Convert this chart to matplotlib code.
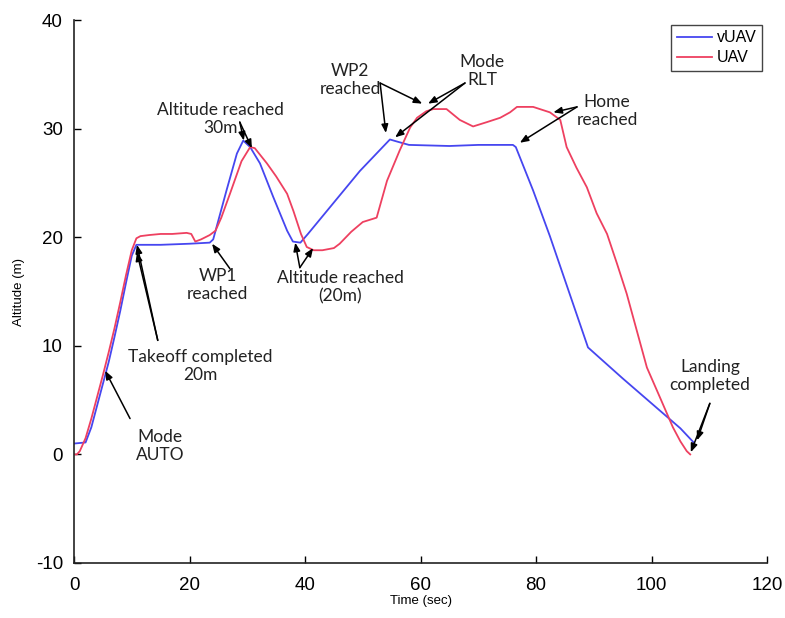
import matplotlib
matplotlib.use("Agg")
import matplotlib.pyplot as plt

# vUAV (blue) series
t_v = [0, 2, 3, 4, 5, 6, 7, 8, 9, 10, 10.8, 11.5, 15, 20, 23.5, 24.1, 26.4, 28.2, 29.3,
       30.5, 32.2, 34.5, 36.9, 37.9, 39.2, 40.5, 45, 49.5, 54.7, 56, 58, 65, 70, 76.0,
       76.5, 79.5, 82.4, 89.0, 95, 100, 105, 107.3]
y_v = [1.0, 1.1, 2.5, 4.5, 6.5, 8.5, 10.8, 13.2, 15.8, 18.3, 19.3, 19.3, 19.3, 19.4, 19.5,
       19.8, 24.3, 27.7, 28.9, 28.3, 26.8, 23.7, 20.6, 19.6, 19.5, 20.3, 23.2, 26.1, 29.0,
       28.8, 28.5, 28.4, 28.5, 28.5, 28.3, 24.3, 20.1, 9.85, 7.0, 4.7, 2.4, 1.1]

# UAV (red) series
t_u = [0, 0.5, 1, 2, 3, 4, 5, 6, 7, 8, 9, 10, 10.8, 11.5, 13, 15, 17, 19.5, 20.3, 21, 22,
       23.5, 24.5, 25.5, 27, 29, 30.5, 31.3, 33.4, 35, 36.9, 38, 39.3, 40.3, 41.5, 43, 45,
       46, 48, 50, 52.4, 54.2, 56.4, 58.2, 59.4, 61, 62.2, 64.5, 66.8, 69.1, 71.5, 73.8,
       75.5, 76.7, 79.5, 82.4, 84.2, 85.3, 87, 88.8, 90.5, 92.3, 94, 95.7, 97.5, 99.2,
       101.5, 103.7, 105, 106.1, 106.7]
y_u = [0.0, 0.0, 0.3, 1.5, 3.3, 5.3, 7.3, 9.4, 11.6, 14.0, 16.5, 18.8, 19.9, 20.1, 20.2,
       20.3, 20.3, 20.4, 20.3, 19.6, 19.8, 20.2, 20.6, 21.8, 24.0, 27.0, 28.3, 28.2, 26.8,
       25.6, 24.0, 22.4, 20.3, 19.1, 18.8, 18.8, 19.0, 19.4, 20.5, 21.4, 21.8, 25.2, 28.0,
       30.1, 31.0, 31.6, 31.8, 31.8, 30.8, 30.2, 30.6, 31.0, 31.5, 32.0, 32.0, 31.5, 30.8,
       28.3, 26.4, 24.6, 22.2, 20.3, 17.6, 14.8, 11.3, 8.0, 5.2, 2.5, 1.2, 0.3, 0.0]

x_ticks = [0, 20, 40, 60, 80, 100, 120]
y_ticks = [-10, 0, 10, 20, 30, 40]

# annotations: text, text position, list of arrow (tail, head)
annotations = [
    ("Mode\nAUTO", (14.9, 0.8), [((9.7, 3.3), (5.4, 7.7))]),
    ("Takeoff completed\n20m", (21.8, 8.1), [((14.5, 10.5), (10.9, 19.3)),
                                             ((14.5, 10.5), (10.9, 18.6))]),
    ("WP1\nreached", (24.9, 15.6), [((27.0, 17.1), (23.9, 19.4))]),
    ("Altitude reached\n30m", (25.3, 30.9), [((28.7, 30.6), (29.4, 28.9)),
                                             ((28.7, 30.6), (30.8, 28.2))]),
    ("Altitude reached\n(20m)", (46.1, 15.4), [((39.1, 17.2), (38.3, 19.5)),
                                               ((39.1, 17.2), (41.4, 19.0))]),
    ("WP2\nreached", (47.8, 34.5), [((53.0, 34.2), (60.3, 32.3)),
                                    ((53.0, 34.2), (54.0, 29.6))]),
    ("Mode\nRLT", (70.7, 35.3), [((67.7, 34.2), (61.3, 32.3)),
                                 ((67.7, 34.2), (55.6, 29.2))]),
    ("Home\nreached", (92.3, 31.6), [((87.1, 32.0), (83.0, 31.5)),
                                     ((87.1, 32.0), (77.2, 28.7))]),
    ("Landing\ncompleted", (110.1, 7.2), [((110.1, 4.7), (107.9, 1.3)),
                                          ((110.1, 4.7), (106.8, 0.2))]),
]

plt.rcParams['font.family'] = ['Liberation Sans', 'DejaVu Sans']
plt.rcParams['axes.unicode_minus'] = False

fig = plt.figure(figsize=(7.85, 6.18), dpi=100)
ax = fig.add_axes([0.0943, 0.089, 0.8828, 0.8786])

ax.plot(t_v, y_v, color='#4646f0', lw=1.3, label='vUAV')
ax.plot(t_u, y_u, color='#ee4060', lw=1.3, label='UAV')

ax.set_xlim(0, 120)
ax.set_ylim(-10, 40)
ax.set_xticks(x_ticks)
ax.set_yticks(y_ticks)
ax.tick_params(direction='in', length=5, width=1, labelsize=13.5)
ax.tick_params(axis='x', pad=10)
ax.tick_params(axis='y', pad=8)
for s in ['top', 'right']:
    ax.spines[s].set_visible(False)
for s in ['left', 'bottom']:
    ax.spines[s].set_linewidth(1.2)
    ax.spines[s].set_color('#222222')

ax.set_xlabel('Time (sec)', fontsize=9.5, labelpad=1)
ax.set_ylabel('Altitude (m)', fontsize=9.5, labelpad=8)

for text, pos, arrows in annotations:
    ax.text(pos[0], pos[1], text, ha='center', va='center', fontsize=12.5,
            family=['Lato', 'DejaVu Sans'], color='#222222', linespacing=1.15)
    for tail, head in arrows:
        ax.annotate('', xy=head, xytext=tail,
                    arrowprops=dict(arrowstyle='-|>,head_length=0.5,head_width=0.2',
                                    color='black', lw=1.1, shrinkA=0, shrinkB=0))

leg = ax.legend(loc='upper right', fontsize=11.5, handlelength=2.2, handletextpad=0.3,
                borderaxespad=0.3, fancybox=False, framealpha=1, borderpad=0.35,
                labelspacing=0.3)
leg.get_frame().set_edgecolor('#444444')
leg.get_frame().set_linewidth(1.0)

fig.savefig('out.png', dpi=100)
